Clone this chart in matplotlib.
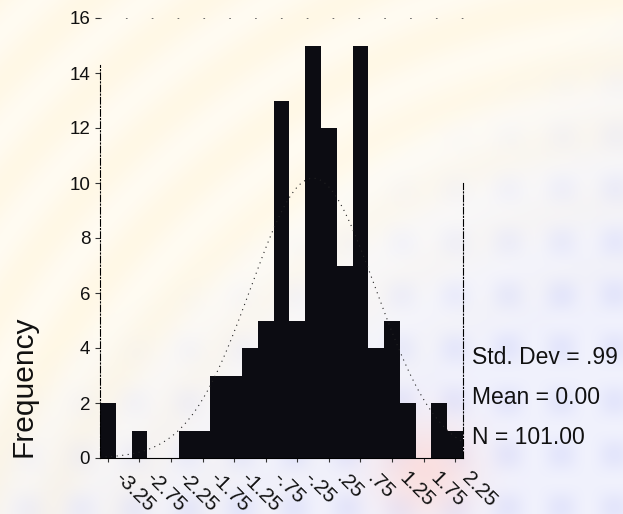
import numpy as np
import matplotlib
matplotlib.use("Agg")
import matplotlib.pyplot as plt
from matplotlib.transforms import ScaledTranslation

plt.rcParams['font.family'] = ['Liberation Sans', 'DejaVu Sans']

# ---- data ----
bin_centers = [-3.25, -3.00, -2.75, -2.50, -2.25, -2.00, -1.75, -1.50, -1.25, -1.00,
               -0.75, -0.50, -0.25, 0.00, 0.25, 0.50, 0.75, 1.00, 1.25, 1.50,
               1.75, 2.00, 2.25]
counts = [2, 0, 1, 0, 0, 1, 1, 3, 3, 4, 5, 13, 5, 15, 12, 7, 15, 4, 5, 2, 0, 2, 1]
bin_width = 0.25
tick_values = [-3.25, -2.75, -2.25, -1.75, -1.25, -0.75, -0.25, 0.25, 0.75, 1.25, 1.75, 2.25]
tick_labels = ["-3.25", "-2.75", "-2.25", "-1.75", "-1.25", "-.75", "-.25", ".25", ".75",
               "1.25", "1.75", "2.25"]
y_ticks = [0, 2, 4, 6, 8, 10, 12, 14, 16]
std_dev = 0.99
mean = 0.00
n_total = 101
stats_lines = ["Std. Dev = .99", "Mean = 0.00", "N = 101.00"]

W, H = 623, 514
fig = plt.figure(figsize=(W / 100, H / 100), dpi=100)

# ---- faint watermark-like background ----
bg_ax = fig.add_axes([0, 0, 1, 1], zorder=-10)
yy, xx = np.mgrid[0:H, 0:W].astype(float)
img = np.ones((H, W, 3))
r = np.hypot(xx - 700, yy - 750)
yellow_w = np.clip((r - 420) / 300, 0, 1) * (0.55 + 0.45 * np.cos(r / 22.0) ** 2)
yellow = np.array([1.0, 0.955, 0.84])
blue_w = np.clip((xx * 0.6 + yy - 380) / 260, 0, 1) * (0.55 + 0.45 * (np.sin(xx / 17.0) * np.sin(yy / 17.0)) ** 2)
blue = np.array([0.86, 0.87, 0.98])
pink_w = np.exp(-((xx - 425) ** 2 + (yy - 470) ** 2) / (2 * 35 ** 2))
pink = np.array([0.99, 0.86, 0.85])
for w, c in [(yellow_w * 0.6, yellow), (blue_w * 0.75, blue), (pink_w * 0.8, pink)]:
    img = img * (1 - w[..., None]) + c * w[..., None]
bg_ax.imshow(img, extent=[0, 1, 0, 1], aspect='auto', origin='upper')
bg_ax.set_axis_off()

# ---- main axes ----
ax = fig.add_axes([100 / W, 1 - 458 / H, 363 / W, 440 / H])
ax.set_facecolor('none')
ax.bar(bin_centers, counts, width=bin_width, color='#0c0c12', edgecolor='none', zorder=2)

xs = np.linspace(-3.375, 2.375, 300)
curve = n_total * bin_width / (std_dev * np.sqrt(2 * np.pi)) * np.exp(-0.5 * ((xs - mean) / std_dev) ** 2)
ax.plot(xs, curve, color='#222222', lw=0.8, linestyle=(0, (1, 4)), zorder=3)

ax.set_xlim(-3.375, 2.375)
ax.set_ylim(0, 16)
ax.set_yticks(y_ticks)
ax.set_yticklabels([str(v) for v in y_ticks], fontsize=13.5, color='#111111')
ax.set_xticks(tick_values)
ax.set_xticklabels(tick_labels, fontsize=15, color='#111111', rotation=-45,
                   ha='left', va='top', rotation_mode='anchor')
ax.tick_params(axis='y', length=3.6, width=0.8, pad=3.5, color='#333333')
ax.tick_params(axis='x', length=3.0, width=0.8, pad=4.5, color='#333333')
off = ScaledTranslation(12 / 72, 0, fig.dpi_scale_trans)
for lab in ax.get_xticklabels():
    lab.set_transform(lab.get_transform() + off)

ax.spines['left'].set_bounds(0, 14.3)
ax.spines['left'].set_linestyle((0, (6, 2, 1, 2)))
ax.spines['left'].set_linewidth(0.8)
ax.spines['right'].set_bounds(0, 10)
ax.spines['right'].set_linestyle((0, (6, 2, 1, 2)))
ax.spines['right'].set_linewidth(0.8)
ax.spines['top'].set_linestyle((0, (1, 30)))
ax.spines['top'].set_linewidth(0.6)
ax.spines['top'].set_color('#555555')
ax.spines['bottom'].set_linewidth(0.8)

fig.text(24 / W, 1 - 386 / H, "Frequency", rotation=90, ha='center', va='center',
         fontsize=21.5, color='#111111')
for i, line in enumerate(stats_lines):
    fig.text(472 / W, 1 - (358 + 39.5 * i) / H, line, ha='left', va='center',
             fontsize=16.5, color='#111111')

fig.savefig("out.png", dpi=100)
